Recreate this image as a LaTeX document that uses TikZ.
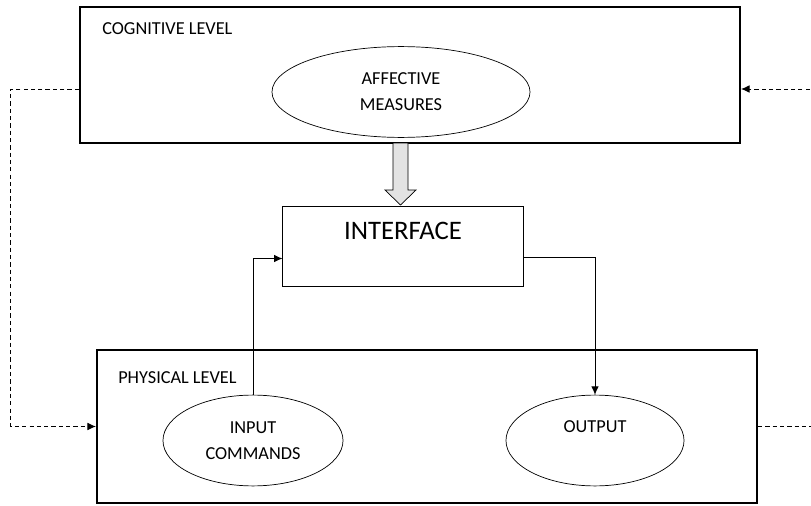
\documentclass[tikz,border=0pt]{standalone}
\usepackage{fontspec}
\setmainfont{Carlito}
\usetikzlibrary{shapes.geometric, arrows.meta}

\tikzset{
	levelbox/.style={draw, line width=1.4pt, minimum width=16.5cm, inner sep=0pt},
	oval/.style={draw, ellipse, line width=.5pt, inner sep=0pt, minimum height=2.27cm, align=center, font=\fontsize{13}{18.5}\selectfont},
	lbl/.style={anchor=west, inner sep=0pt, font=\fontsize{13}{15}\selectfont},
	link/.style={line width=.7pt, -{Latex[length=6pt, width=5.5pt]}},
	feedback/.style={line width=.7pt, dash pattern=on 3pt off 2.2pt, -{Latex[length=6pt, width=5.5pt]}}
}

\begin{document}
\begin{tikzpicture}[x=.025cm, y=-.025cm]
		\useasboundingbox (0,0) rectangle (811,506);
		
		% cognitive level
		\node [levelbox, minimum height=3.4cm] (cog) at (410,75) {};
		\node [lbl] (coglbl) at (102,29) {COGNITIVE LEVEL};
		\node [oval, minimum width=6.45cm] (affect) at (401,92) {AFFECTIVE\\MEASURES};
		
		% interface
		\node [draw, line width=.7pt, minimum width=6cm, minimum height=2.02cm, inner sep=0pt] (iface) at (403,246.5) {};
		\node [font=\fontsize{19}{21}\selectfont, inner sep=0pt] (ifacelbl) at (403,230.5) {INTERFACE};
		\draw [line width=.5pt, fill=gray!22] (393,143) -- (393,190) -- (385,190) -- (400.5,205) -- (416,190) -- (408,190) -- (408,143) -- cycle;
		
		% physical level
		\node [levelbox, minimum height=3.83cm] (phys) at (427,426.5) {};
		\node [lbl] (physlbl) at (118,378) {PHYSICAL LEVEL};
		\node [oval, minimum width=4.5cm] (input) at (253,440.5) {INPUT\\COMMANDS};
		\node [oval, minimum width=4.45cm] (output) at (595,440.5) {};
		\node [font=\fontsize{13}{15}\selectfont, inner sep=0pt] (outlbl) at (595,427) {OUTPUT};
		
		\draw [link] (input.north) |- ([yshift=-.3cm]iface.west);
		\draw [link] ([yshift=-.27cm]iface.east) -| (output.north);
		
		% feedback loop
		\draw [feedback] ([yshift=-.35cm]cog.west) -- ++(-68,0) |- (phys.west);
		\draw [feedback, -] (phys.east) -- ++(60,0);
		\draw [feedback] ([yshift=-.35cm]cog.east) ++(76,0) -- ([yshift=-.35cm]cog.east);
\end{tikzpicture}
\end{document}
